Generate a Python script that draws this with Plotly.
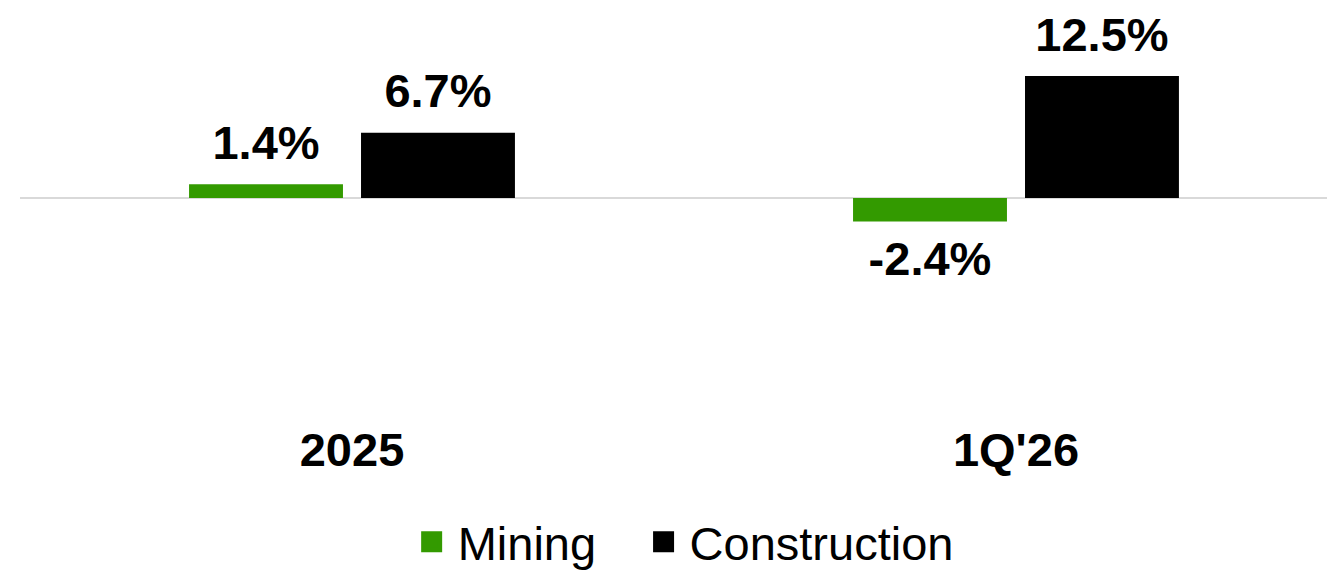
import plotly.graph_objects as go

categories = ["2025", "1Q'26"]
mining = [1.4, -2.4]
construction = [6.7, 12.5]
series_names = ["Mining", "Construction"]
colors = ["#339a00", "#000000"]

FONT = "Liberation Sans, Arial, sans-serif"

legend_ids = ["legend", "legend2"]

fig = go.Figure()
for name, vals, col, lg in zip(series_names, [mining, construction], colors, legend_ids):
    fig.add_trace(go.Bar(
        x=categories, y=vals, name=name,
        marker=dict(color=col, line=dict(width=0)),
        offsetgroup=name, alignmentgroup="all",
        showlegend=False, legendgroup=name,
    ))
    # value labels, aligned on the bars via offset groups
    fig.add_trace(go.Scatter(
        x=categories, y=vals, mode="markers+text",
        text=[f"{v:.1f}%" for v in vals],
        textposition=["top center" if v >= 0 else "bottom center" for v in vals],
        textfont=dict(family=FONT, size=47, color="#000000", weight="bold"),
        marker=dict(size=[20 if v >= 0 else 28 for v in vals], opacity=0),
        offsetgroup=name, alignmentgroup="all",
        cliponaxis=False, showlegend=False, hoverinfo="skip",
    ))
    fig.add_trace(go.Scatter(
        x=[None], y=[None], mode="markers", name=name, legendgroup=name,
        marker=dict(symbol="square", size=26, color=col,
                    line=dict(color=col, width=6)),
        legend=lg,
    ))

legend_common = dict(
    orientation="h", xanchor="left",
    yref="container", y=0.066, yanchor="middle",
    font=dict(family=FONT, size=47, color="#000000"),
    itemsizing="trace", itemwidth=42, bgcolor="rgba(0,0,0,0)",
)

fig.update_layout(
    width=1335, height=572,
    margin=dict(l=12, r=0, t=0, b=162),
    paper_bgcolor="white", plot_bgcolor="white",
    barmode="group", bargap=0.482, bargroupgap=0.105,
    scattermode="group", scattergap=0.482,
    font=dict(family=FONT, color="#000000"),
    xaxis=dict(
        type="category", range=[-0.5, 1.4925],
        showgrid=False, showline=False, ticks="",
        tickfont=dict(family=FONT, size=47, color="#000000", weight="bold"),
    ),
    yaxis=dict(
        range=[-22.54, 19.47], showgrid=False, showticklabels=False,
        zeroline=True, zerolinecolor="#d9d9d9", zerolinewidth=2,
    ),
    legend=dict(x=0.2915, **legend_common),
    legend2=dict(x=0.4668, **legend_common),
)

fig.write_html("out.html")
